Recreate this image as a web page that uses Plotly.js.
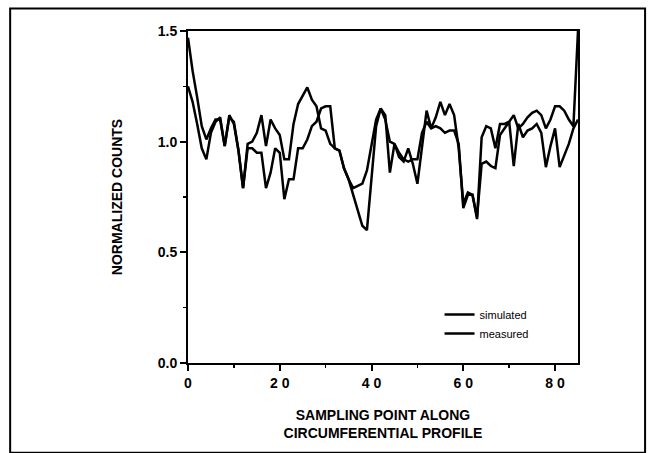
<!DOCTYPE html>
<html>
<head>
<meta charset="utf-8">
<script src="https://cdn.plot.ly/plotly-3.0.1.min.js"></script>
<style>
  html, body { margin: 0; padding: 0; background: #fff; }
  #chart { width: 653px; height: 453px; }
</style>
</head>
<body>
<div id="chart"></div>
<script>
// Sampling point positions along the circumferential profile
const samplingPoints = [
  0,1,2,3,4,5,6,7,8,9,10,11,12,13,14,15,16,17,18,19,
  20,21,22,23,24,25,26,27,28,29,30,31,32,33,34,35,36,37,38,39,
  40,41,42,43,44,45,46,47,48,49,50,51,52,53,54,55,56,57,58,59,
  60,61,62,63,64,65,66,67,68,69,70,71,72,73,74,75,76,77,78,79,
  80,81,82,83,84,85
];

// Normalized counts, simulated profile
const simulated = [
  1.47,1.32,1.20,1.07,1.01,1.06,1.10,1.10,0.98,1.12,1.08,0.96,0.79,0.99,1.00,1.04,1.12,0.98,1.10,1.06,
  1.03,0.92,0.92,1.08,1.17,1.21,1.245,1.19,1.16,1.06,1.05,0.99,0.97,0.96,0.88,0.83,0.76,0.69,0.62,0.60,
  0.84,1.07,1.15,1.12,0.86,0.99,0.93,0.91,0.97,0.90,0.81,0.98,1.14,1.06,1.11,1.18,1.12,1.17,1.12,0.97,
  0.72,0.77,0.76,0.65,1.02,1.07,1.06,0.97,1.08,1.08,1.09,1.12,1.06,1.08,1.11,1.13,1.14,1.12,1.06,1.10,
  1.16,1.16,1.14,1.10,1.07,1.50
];

// Normalized counts, measured profile
const measured = [
  1.25,1.18,1.08,0.97,0.92,1.04,1.09,1.11,0.98,1.11,1.09,0.96,0.79,0.97,0.97,0.95,0.95,0.79,0.86,0.97,
  0.95,0.74,0.83,0.83,0.97,0.97,1.01,1.07,1.09,1.15,1.16,1.16,0.97,0.96,0.88,0.83,0.79,0.80,0.81,0.87,
  0.99,1.10,1.15,1.10,1.00,0.99,0.95,0.92,0.91,0.92,0.92,1.04,1.09,1.06,1.07,1.06,1.04,1.05,1.05,0.99,
  0.70,0.76,0.76,0.66,0.90,0.91,0.89,0.88,1.03,1.06,1.09,0.89,1.08,1.02,1.05,1.06,1.08,1.04,0.885,0.98,
  1.06,0.885,0.94,0.99,1.06,1.10
];

const xTickVals = [0, 20, 40, 60, 80];
const xTickText = ["0", "2 0", "4 0", "6 0", "8 0"];
const yTickVals = [0, 0.5, 1.0, 1.5];
const yTickText = ["0.0", "0.5", "1.0", "1.5"];
const xMinorVals = [10, 30, 50, 70];
const yMinorVals = [0.25, 0.75, 1.25];

const traces = [
  {
    x: samplingPoints, y: simulated, name: "simulated",
    type: "scatter", mode: "lines",
    line: { color: "#000", width: 2.5 }
  },
  {
    x: samplingPoints, y: measured, name: "measured",
    type: "scatter", mode: "lines",
    line: { color: "#000", width: 2.5 }
  }
];

const tickFont = { family: "Liberation Sans, Arial, sans-serif", size: 14, weight: "bold", color: "#000" };
const titleFont = { family: "Liberation Sans, Arial, sans-serif", size: 14, weight: "bold", color: "#000" };

const layout = {
  width: 653, height: 453,
  margin: { l: 188, r: 75, t: 31, b: 90 },
  paper_bgcolor: "#fff",
  plot_bgcolor: "#fff",
  showlegend: true,
  legend: {
    x: 0.645, y: 0.19, xanchor: "left", yanchor: "top",
    bgcolor: "rgba(0,0,0,0)",
    font: { family: "Liberation Sans, Arial, sans-serif", size: 11, color: "#000" },
    tracegroupgap: 0, itemwidth: 30
  },
  xaxis: {
    range: [0, 85],
    tickmode: "array", tickvals: xTickVals, ticktext: xTickText,
    ticks: "outside", ticklen: 6, tickwidth: 2, tickcolor: "#000",
    minor: { tickmode: "array", tickvals: xMinorVals, ticks: "outside", ticklen: 3, tickwidth: 1.5, tickcolor: "#000" },
    showline: true, linecolor: "#000", linewidth: 2, mirror: true,
    showgrid: false, zeroline: false,
    tickfont: tickFont,
    title: { text: "SAMPLING POINT ALONG<br>CIRCUMFERENTIAL PROFILE", font: titleFont, standoff: 20 }
  },
  yaxis: {
    range: [0, 1.5],
    tickmode: "array", tickvals: yTickVals, ticktext: yTickText,
    ticks: "outside", ticklen: 6, tickwidth: 2, tickcolor: "#000",
    minor: { tickmode: "array", tickvals: yMinorVals, ticks: "outside", ticklen: 3, tickwidth: 1.5, tickcolor: "#000" },
    showline: true, linecolor: "#000", linewidth: 2, mirror: true,
    showgrid: false, zeroline: false,
    tickfont: tickFont,
    title: { text: "NORMALIZED COUNTS", font: titleFont, standoff: 32 }
  },
  shapes: [
    {
      type: "rect", xref: "paper", yref: "paper", layer: "above",
      x0: -0.456, x1: 1.172, y0: -0.27, y1: 1.068,
      line: { color: "#000", width: 2 }
    }
  ]
};

Plotly.newPlot("chart", traces, layout, { displayModeBar: false, staticPlot: true });
</script>
</body>
</html>
